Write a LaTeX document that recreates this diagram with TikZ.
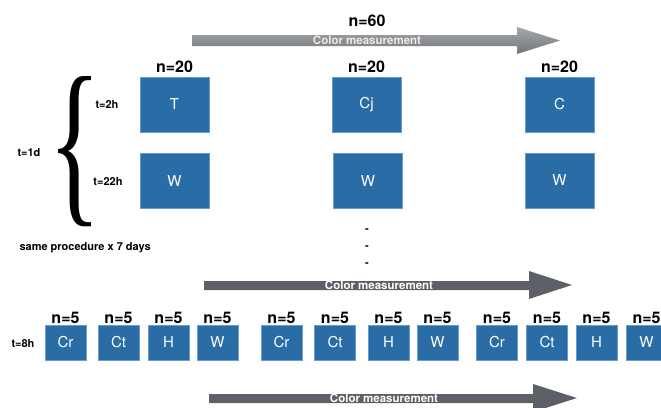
\documentclass[tikz,border=0pt]{standalone}
\usepackage{fontspec}
\setmainfont{TeX Gyre Heros}
\newfontfamily\bracefont{Liberation Serif}
\definecolor{boxblue}{HTML}{2A6DA6}
\definecolor{boxedge}{HTML}{6A9CC8}
\definecolor{arrowdark}{HTML}{5D6167}
\definecolor{arrowtop}{HTML}{A5A7A9}
\definecolor{arrowbottom}{HTML}{74777A}

\begin{document}
\begin{tikzpicture}[x=1pt,y=-1pt,group/.style={draw=boxedge,line width=0.6pt,fill=boxblue,minimum width=69pt,minimum height=55pt,inner sep=0pt,text=white,font=\fontsize{15}{15}\selectfont},sample/.style={group,minimum width=41pt,minimum height=35pt},count/.style={font=\fontsize{16}{16}\selectfont\bfseries},timing/.style={font=\fontsize{11}{11}\selectfont\bfseries},measure/.style={text=white,font=\fontsize{11.5}{11.5}\selectfont\bfseries}]
\useasboundingbox (0,0) rectangle (661,407);
\coordinate (T) at (174.5,104.5);
\coordinate (Cj) at (366.5,105);
\coordinate (C) at (559.5,104.5);
\coordinate (WT) at (174.5,181);
\coordinate (WCj) at (368,181);
\coordinate (WC) at (559.5,180.5);
\shade[top color=arrowtop,bottom color=arrowbottom] (192,35) -- (517,35) -- (517,27) -- (560,40.5) -- (517,54) -- (517,46) -- (192,46) -- cycle;
\fill[arrowdark] (204,281) -- (529,281) -- (529,271) -- (572,285) -- (529,299) -- (529,290) -- (204,290) -- cycle;
\fill[arrowdark] (209,394) -- (533,394) -- (533,384) -- (577,398) -- (533,412) -- (533,403) -- (209,403) -- cycle;
\node[measure,text=white!92!black] (m1) at (367,40.5) {Color measurement};
\node[measure] (m2) at (379,285) {Color measurement};
\node[measure] (m3) at (384,398) {Color measurement};
\node[count] (n60) at (367,21) {n=60};
\node[group] (boxT) at (T) {T};
\node[count,yshift=38pt] (nT) at (T) {n=20};
\node[group] (boxCj) at (Cj) {Cj};
\node[count,yshift=38pt] (nCj) at (Cj) {n=20};
\node[group] (boxC) at (C) {C};
\node[count,yshift=38pt] (nC) at (C) {n=20};
\node[group] (boxWT) at (WT) {W};
\node[group] (boxWCj) at (WCj) {W};
\node[group] (boxWC) at (WC) {W};
\node[inner sep=0pt] (brace) at (75,151.5) {\resizebox{53pt}{126pt}{\bracefont\{}};
\node[timing] (t1d) at (29,153) {t=1d};
\node[timing] (t2h) at (107,105) {t=2h};
\node[timing] (t22h) at (108,182) {t=22h};
\node[timing,anchor=west] (same) at (16,248) {same procedure x 7 days};
\node[timing] (dot1) at (367,231) {-};
\node[timing] (dot2) at (367,248) {-};
\node[timing] (dot3) at (367,265) {-};
\node[timing] (t8h) at (23,344) {t=8h};
\node[sample] (Cr1) at (65.5,342.5) {Cr};
\node[count,yshift=25pt] (nCr1) at (65.5,342.5) {n=5};
\node[sample] (Ct1) at (118.5,342.5) {Ct};
\node[count,yshift=25pt] (nCt1) at (118.5,342.5) {n=5};
\node[sample] (H1) at (168.5,342.5) {H};
\node[count,yshift=25pt] (nH1) at (168.5,342.5) {n=5};
\node[sample] (W1) at (217.5,342.5) {W};
\node[count,yshift=25pt] (nW1) at (217.5,342.5) {n=5};
\node[sample] (Cr2) at (281.5,342.5) {Cr};
\node[count,yshift=25pt] (nCr2) at (281.5,342.5) {n=5};
\node[sample] (Ct2) at (335,342.5) {Ct};
\node[count,yshift=25pt] (nCt2) at (335,342.5) {n=5};
\node[sample] (H2) at (388.5,342.5) {H};
\node[count,yshift=25pt] (nH2) at (388.5,342.5) {n=5};
\node[sample] (W2) at (437.5,342.5) {W};
\node[count,yshift=25pt] (nW2) at (437.5,342.5) {n=5};
\node[sample] (Cr3) at (497,342.5) {Cr};
\node[count,yshift=25pt] (nCr3) at (497,342.5) {n=5};
\node[sample] (Ct3) at (547,342.5) {Ct};
\node[count,yshift=25pt] (nCt3) at (547,342.5) {n=5};
\node[sample] (H3) at (596.5,342.5) {H};
\node[count,yshift=25pt] (nH3) at (596.5,342.5) {n=5};
\node[sample] (W3) at (646.5,342.5) {W};
\node[count,yshift=25pt] (nW3) at (646.5,342.5) {n=5};
\end{tikzpicture}
\end{document}
